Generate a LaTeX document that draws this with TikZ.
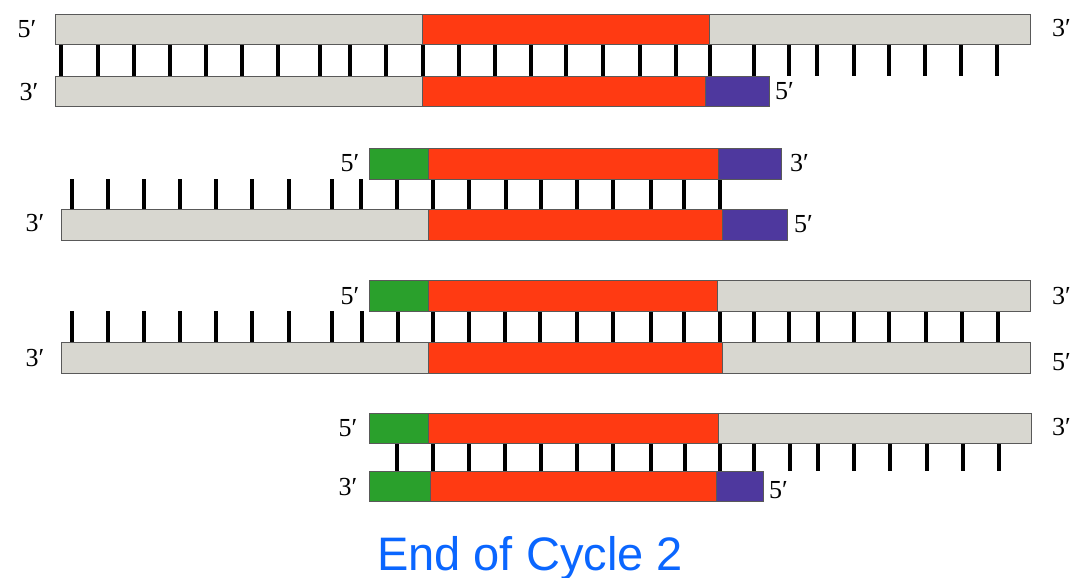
\documentclass[tikz,border=0pt]{standalone}
\usepackage{fontspec}
\setmainfont{Liberation Serif}
\newfontfamily\capfont{Liberation Sans}
\definecolor{dnagray}{RGB}{216,215,208}
\definecolor{dnared}{RGB}{255,58,18}
\definecolor{dnagreen}{RGB}{42,160,44}
\definecolor{dnablue}{RGB}{78,56,158}
\definecolor{capblue}{RGB}{10,102,255}
\newcommand\segbox[6]{%
  \node[segstyle,fill=#6,minimum width={(#4-#2)*1pt},minimum height={(#5-#3)*1pt}] (#1) at (#2,#3) {};}
\begin{document}
\begin{tikzpicture}[x=1pt,y=-1pt,
  segstyle/.style={draw=black!65,line width=0.8pt,inner sep=0pt,outer sep=0pt,anchor=north west},
  tickline/.style={line width=4pt,black},
  lab/.style={font=\fontsize{26}{26}\selectfont,inner sep=0pt},
  lableft/.style={lab,anchor=west}]
\useasboundingbox (0,0) rectangle (1074,578);
\fill[white] (0,0) rectangle (1074,578);
% ---------- row 1 ----------
\foreach \t in {61,97.5,133.6,169.8,206,242,278,320,350,386,422.5,458.7,494.8,531,566.4,602.9,640.3,675.7,710.4,753.8,788.5,817.3,854.4,889.1,924.5,961.3,997.4}
  \draw[tickline] (\t,44) -- (\t,76);
\segbox{a1}{55}{14}{422}{44}{dnagray}
\segbox{a2}{422}{14}{709}{44}{dnared}
\segbox{a3}{709}{14}{1030}{44}{dnagray}
\segbox{b1}{55}{76}{422}{106}{dnagray}
\segbox{b2}{422}{76}{705}{106}{dnared}
\segbox{b3}{705}{76}{769}{106}{dnablue}
\node[lab] (l1a) at (27,29) {5′};
\node[lab] (l1b) at (29,92) {3′};
\node[lableft] (l1c) at (1052,28) {3′};
\node[lableft] (l1d) at (775,91) {5′};
% ---------- row 2 ----------
\foreach \t in {71.6,107.8,144,180,216,252,288.6,331.6,361,397,433,469,505.5,541,577,612.6,650.7,684.4,720}
  \draw[tickline] (\t,179) -- (\t,209);
\segbox{c1}{369}{148}{428}{179}{dnagreen}
\segbox{c2}{428}{148}{718}{179}{dnared}
\segbox{c3}{718}{148}{781}{179}{dnablue}
\segbox{d1}{61}{209}{428}{240}{dnagray}
\segbox{d2}{428}{209}{722}{240}{dnared}
\segbox{d3}{722}{209}{787}{240}{dnablue}
\node[lab] (l2a) at (350,163) {5′};
\node[lab] (l2b) at (35,223) {3′};
\node[lableft] (l2c) at (790,163) {3′};
\node[lableft] (l2d) at (794,224) {5′};
% ---------- row 3 ----------
\foreach \t in {72,108,144,180,216,252,288.6,331.6,361.5,397.7,433,469,505,540.4,576.8,612.6,650.7,684.4,720,753.8,788.5,818,854.4,889,925.6,962,998.4}
  \draw[tickline] (\t,311) -- (\t,342);
\segbox{e1}{369}{280}{428}{311}{dnagreen}
\segbox{e2}{428}{280}{717}{311}{dnared}
\segbox{e3}{717}{280}{1030}{311}{dnagray}
\segbox{f1}{61}{342}{428}{373}{dnagray}
\segbox{f2}{428}{342}{722}{373}{dnared}
\segbox{f3}{722}{342}{1030}{373}{dnagray}
\node[lab] (l3a) at (350,296) {5′};
\node[lab] (l3b) at (35,358) {3′};
\node[lableft] (l3c) at (1052,296) {3′};
\node[lableft] (l3d) at (1052,362) {5′};
% ---------- row 4 ----------
\foreach \t in {397.3,433.3,469,505,540.7,576.7,612.7,651,685,720,754,790,818,854,890,926.7,962.7,999.3}
  \draw[tickline] (\t,443) -- (\t,471);
\segbox{g1}{369}{413}{428}{443}{dnagreen}
\segbox{g2}{428}{413}{718}{443}{dnared}
\segbox{g3}{718}{413}{1031}{443}{dnagray}
\segbox{h1}{369}{471}{430}{501}{dnagreen}
\segbox{h2}{430}{471}{716}{501}{dnared}
\segbox{h3}{716}{471}{763}{501}{dnablue}
\node[lab] (l4a) at (348,428) {5′};
\node[lab] (l4b) at (348,487) {3′};
\node[lableft] (l4c) at (1052,427) {3′};
\node[lableft] (l4d) at (769,490) {5′};
% ---------- caption ----------
\node[font=\capfont\fontsize{47}{47}\selectfont,text=capblue,inner sep=0pt,anchor=base] (cap) at (530,570) {End of Cycle 2};
\end{tikzpicture}
\end{document}
